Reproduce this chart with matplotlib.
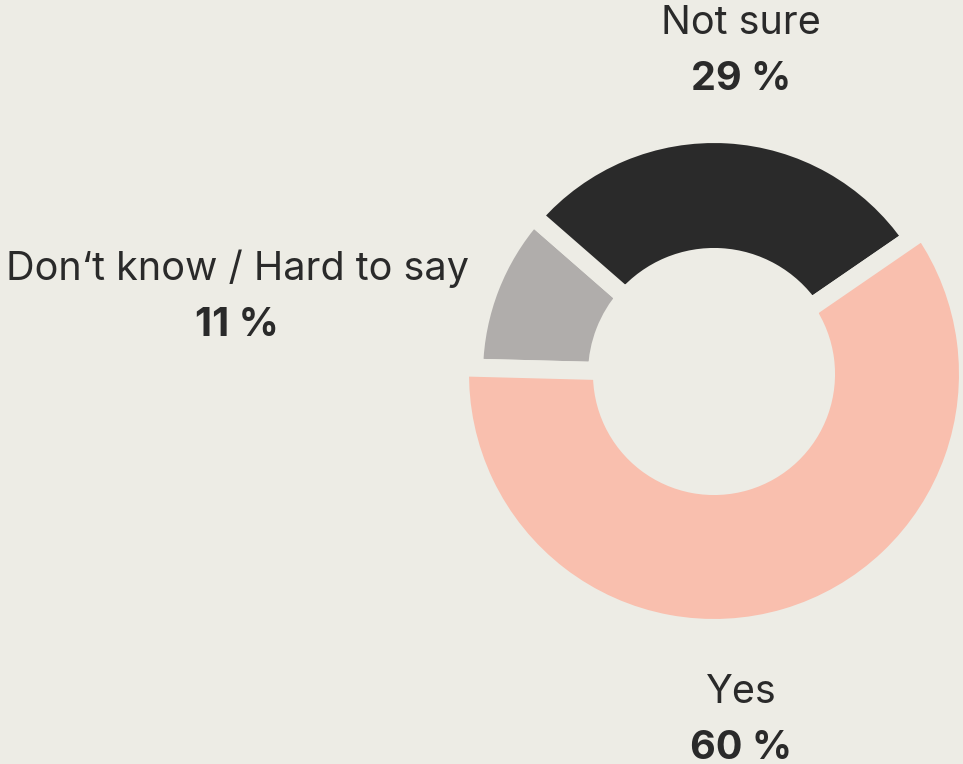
import matplotlib.pyplot as plt

# chart data
labels = ['Yes', 'Don‘t know / Hard to say', 'Not sure']
values = [60, 11, 29]
colors = ['#f9bfae', '#b0adab', '#2a2a2a']

BG = '#edece5'
TXT = '#2a2a2a'

plt.rcParams['font.family'] = ['Inter', 'DejaVu Sans']

fig = plt.figure(figsize=(9.63, 7.64), dpi=100)
fig.patch.set_facecolor(BG)
ax = fig.add_axes([0, 0, 1, 1])
ax.set_facecolor(BG)

# donut, gaps made by a thick background-coloured edge
wedges, _ = ax.pie(values, colors=colors, radius=240, center=(714, 390),
                   startangle=34.5, counterclock=False,
                   wedgeprops=dict(width=123, edgecolor=BG, linewidth=13,
                                   joinstyle='miter'))
# the "Yes" ring is drawn a bit thicker and on top
wedges[0].set_radius(254)
wedges[0].set_width(142)
wedges[0].set_zorder(3)

ax.set_xlim(0, 963)
ax.set_ylim(0, 764)
ax.set_aspect('equal')
ax.axis('off')

# labels: name on top, bold share below
label_pos = {'Yes': (741, 764 - 703),
             'Don‘t know / Hard to say': (237, 764 - 280),
             'Not sure': (741, 764 - 34)}
for name, val in zip(labels, values):
    x, y = label_pos[name]
    ax.text(x, y, name, fontsize=28.5, color=TXT, ha='center', va='baseline')
    ax.text(x, y - 56, f'{val} %', fontsize=28.5, fontweight='bold', color=TXT,
            ha='center', va='baseline')

fig.savefig('out.png', dpi=100, facecolor=BG)
